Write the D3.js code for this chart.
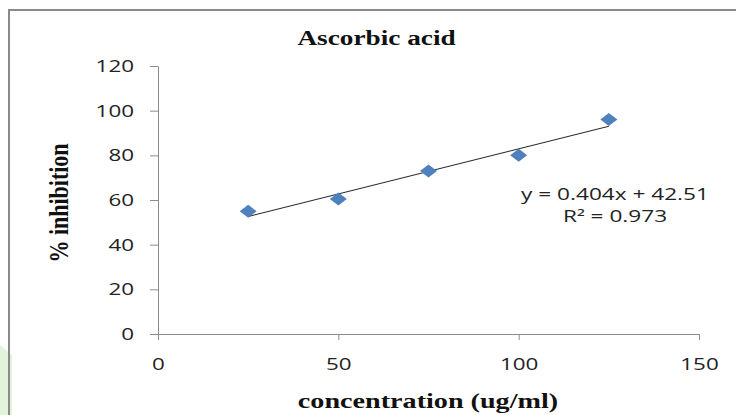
<!DOCTYPE html>
<html><head><meta charset="utf-8">
<script src="https://cdn.jsdelivr.net/npm/d3@7"></script>
<style>body{margin:0;background:#fff}svg{display:block}</style>
</head><body>
<svg id="c" width="736" height="415"></svg>
<script>
const concentration = [25, 50, 75, 100, 125];
const inhibition = [55, 60.5, 73, 80, 96];
const xTicks = [0, 50, 100, 150];
const yTicks = [0, 20, 40, 60, 80, 100, 120];
const trendSlope = 0.404;
const trendIntercept = 42.51;
const equationLines = ["y = 0.404x + 42.51", "R² = 0.973"];

const svg = d3.select("#c");
// faint watermark at left bottom
svg.append("path").attr("d","M0,345 L12,355 L12,415 L0,415 Z").attr("fill","#e4f3dc");
// chart border
svg.append("rect").attr("x",9).attr("y",10).attr("width",740).attr("height",420)
  .attr("fill","none").attr("stroke","#8a8a8a").attr("stroke-width",2);

const x = d3.scaleLinear().domain([0,150]).range([158,699]);
const y = d3.scaleLinear().domain([0,120]).range([334,66]);
const axisColor = "#8c8c8c";
const sans = "'Open Sans', 'DejaVu Sans', sans-serif";
const sx = 1.4;

const xa = svg.append("g").attr("transform","translate(0,334)")
  .call(d3.axisBottom(x).tickValues(xTicks).tickSize(6).tickSizeOuter(0));
const ya = svg.append("g").attr("transform","translate(158,0)")
  .call(d3.axisLeft(y).tickValues(yTicks).tickSize(8).tickSizeOuter(0));
[xa, ya].forEach(g => {
  g.select(".domain").attr("stroke", axisColor);
  g.selectAll(".tick line").attr("stroke", axisColor);
  g.selectAll(".tick text").attr("fill","#222").style("font-family",sans).style("font-size","16px");
});
xa.selectAll(".tick text").attr("x",0).attr("y",0).attr("dy",0)
  .attr("transform",`translate(0,36) scale(${sx},1)`);
ya.selectAll(".tick text").attr("x",0).attr("dy","0.34em")
  .attr("transform",`translate(-24,0) scale(${sx},1)`);

// trendline
const x0 = concentration[0], x1 = concentration[concentration.length-1];
svg.append("line")
  .attr("x1", x(x0)).attr("y1", y(trendSlope*x0+trendIntercept))
  .attr("x2", x(x1)).attr("y2", y(trendSlope*x1+trendIntercept))
  .attr("stroke","#222").attr("stroke-width",1);

// markers
svg.selectAll("path.pt").data(concentration.map((c,i)=>[c,inhibition[i]])).enter()
  .append("path").attr("class","pt")
  .attr("d","M0,-6.5 L8.5,0 L0,6.5 L-8.5,0 Z")
  .attr("transform", d => `translate(${x(d[0])},${y(d[1])})`)
  .attr("fill","#4f81bd");

// equation text
[[200, equationLines[0]], [222, equationLines[1]]].forEach(([yy, t]) => {
  svg.append("text").attr("transform",`translate(615,${yy}) scale(1.46,1)`).attr("text-anchor","middle")
    .style("font-family",sans).style("font-size","15.5px").attr("fill","#222").text(t);
});

const serif = "'Liberation Serif', 'DejaVu Serif', serif";
svg.append("text").attr("transform","translate(376.5,45) scale(1.24,1)").attr("text-anchor","middle")
  .style("font-family",serif).style("font-weight","bold").style("font-size","22px").attr("fill","#111").text("Ascorbic acid");
svg.append("text").attr("transform","translate(428,408) scale(1.28,1)").attr("text-anchor","middle")
  .style("font-family",serif).style("font-weight","bold").style("font-size","22px").attr("fill","#111").text("concentration (ug/ml)");
svg.append("text").attr("transform","translate(68,203) scale(1.28,1) rotate(-90)").attr("text-anchor","middle")
  .style("font-family",serif).style("font-weight","bold").style("font-size","22px").attr("fill","#111").text("% inhibition");
</script>
</body></html>
